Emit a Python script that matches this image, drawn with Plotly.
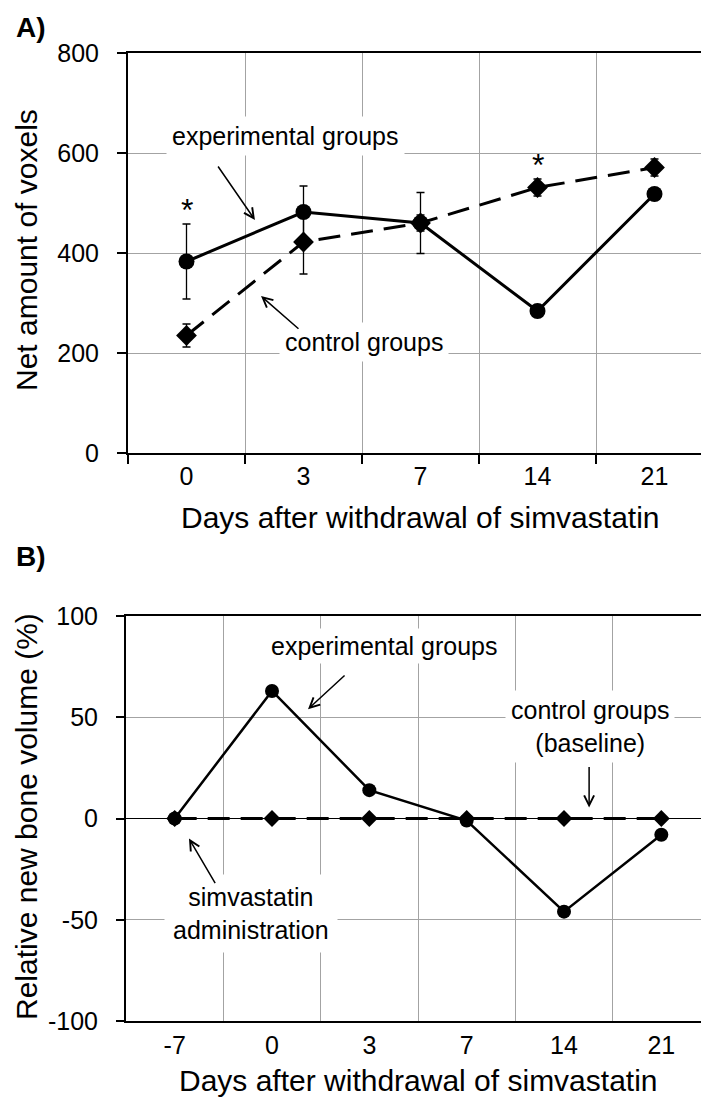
import plotly.graph_objects as go

# ---------------- data ----------------
days_a = ['0', '3', '7', '14', '21']
exp_a = [383, 482, 460, 284, 518]
exp_a_err = [75, 52, 61, 0, 0]
ctrl_a = [235, 422, 460, 531, 571]
ctrl_a_err = [23, 64, 16, 17, 17]

days_b = ['-7', '0', '3', '7', '14', '21']
exp_b = [0, 63, 14, -1, -46, -8]
ctrl_b = [0, 0, 0, 0, 0, 0]

y_ticks_a = [0, 200, 400, 600, 800]
y_ticks_b = [-100, -50, 0, 50, 100]
y_ticktext_b = ['-100', '-50', '0', '50', '100']

x_title = "Days after withdrawal of simvastatin"
y_title_a = "Net amount of voxels"
y_title_b = "Relative new bone volume (%)"

FONT = "Liberation Sans, Arial, sans-serif"
GRID = "#a3a3a3"
W, H = 709, 1101

fig = go.Figure()

# Panel A
fig.add_trace(go.Scatter(
    x=days_a, y=ctrl_a, mode="lines+markers", xaxis="x", yaxis="y",
    line=dict(color="black", width=3, dash="22px,11px"),
    marker=dict(symbol="diamond", size=16, color="black"),
    error_y=dict(type="data", array=ctrl_a_err, color="black", thickness=1.3, width=4),
    showlegend=False))
fig.add_trace(go.Scatter(
    x=days_a, y=exp_a, mode="lines+markers", xaxis="x", yaxis="y",
    line=dict(color="black", width=3),
    marker=dict(symbol="circle", size=16, color="black"),
    error_y=dict(type="data", array=exp_a_err, color="black", thickness=1.3, width=4),
    showlegend=False))

# Panel B
fig.add_trace(go.Scatter(
    x=days_b, y=ctrl_b, mode="lines+markers", xaxis="x2", yaxis="y2",
    line=dict(color="black", width=3, dash="22px,11px"),
    marker=dict(symbol="diamond", size=13, color="black"),
    showlegend=False))
fig.add_trace(go.Scatter(
    x=days_b, y=exp_b, mode="lines+markers", xaxis="x2", yaxis="y2",
    line=dict(color="black", width=2.5),
    marker=dict(symbol="circle", size=14, color="black"),
    showlegend=False))

axis_common = dict(
    automargin=False,
    showline=True, linecolor="black", linewidth=2, mirror=True,
    showgrid=True, gridcolor=GRID, gridwidth=1,
    tickfont=dict(family=FONT, size=25, color="black"),
    tickcolor="black", tickwidth=2,
)

fig.update_layout(
    template="none",
    width=W, height=H,
    margin=dict(l=0, r=0, t=0, b=0, pad=0),
    paper_bgcolor="white", plot_bgcolor="white",
    font=dict(family=FONT, color="black"),
    xaxis=dict(axis_common, type="category", categoryorder="array", categoryarray=days_a,
               domain=[120 / W, 705 / W], anchor="y", range=[-0.5, 4.5],
               tickson="boundaries", ticks="outside", ticklen=9, zeroline=False),
    yaxis=dict(axis_common, domain=[1 - 445 / H, 1 - 45 / H], anchor="x",
               range=[0, 800], tickvals=y_ticks_a, ticks="outside", ticklen=9,
               ticklabelstandoff=13, zeroline=False),
    xaxis2=dict(axis_common, type="category", categoryorder="array", categoryarray=days_b,
                domain=[118 / W, 702 / W], anchor="y2", range=[-0.5, 5.5],
                tickson="boundaries", ticks="", ticklabelstandoff=1, zeroline=False),
    yaxis2=dict(axis_common, domain=[1 - 1013 / H, 1 - 608 / H], anchor="x2",
                range=[-100, 100], tickvals=y_ticks_b, ticktext=y_ticktext_b,
                ticks="outside", ticklen=8, ticklabelstandoff=13,
                zeroline=True, zerolinecolor="black", zerolinewidth=1.2),
)

ann_font = dict(family=FONT, size=25, color="black")
title_font = dict(family=FONT, size=30, color="black")
arrow_style = dict(showarrow=True, arrowhead=5, arrowsize=1.3, arrowwidth=1.5,
                   arrowcolor="black", text="")
annotations = [
    # panel labels
    dict(text="<b>A)</b>", xref="paper", yref="paper", x=23 / W, y=1 - 19 / H,
         showarrow=False, font=dict(family=FONT, size=28, color="black"),
         xanchor="center", yanchor="middle"),
    dict(text="<b>B)</b>", xref="paper", yref="paper", x=23 / W, y=1 - 549 / H,
         showarrow=False, font=dict(family=FONT, size=28, color="black"),
         xanchor="center", yanchor="middle"),
    # axis titles
    dict(text=x_title, xref="paper", yref="paper", x=412 / W, y=1 - 510 / H,
         showarrow=False, font=title_font, xanchor="center", yanchor="middle"),
    dict(text=x_title, xref="paper", yref="paper", x=410 / W, y=1 - 1072 / H,
         showarrow=False, font=title_font, xanchor="center", yanchor="middle"),
    dict(text=y_title_a, xref="paper", yref="paper", x=18 / W, y=1 - 242 / H,
         showarrow=False, font=title_font, textangle=-90,
         xanchor="center", yanchor="middle"),
    dict(text=y_title_b, xref="paper", yref="paper", x=18 / W, y=1 - 809 / H,
         showarrow=False, font=title_font, textangle=-90,
         xanchor="center", yanchor="middle"),
    # panel A texts
    dict(text="experimental groups", xref="x", yref="y", x=0.85, y=634, showarrow=False,
         font=ann_font, bgcolor="white", borderpad=5),
    dict(text="control groups", xref="x", yref="y", x=1.517, y=222, showarrow=False,
         font=ann_font, bgcolor="white", borderpad=5),
    dict(text="*", xref="x", yref="y", x=0, y=486, showarrow=False,
         font=dict(family=FONT, size=32, color="black")),
    dict(text="*", xref="x", yref="y", x=3, y=576, showarrow=False,
         font=dict(family=FONT, size=32, color="black")),
    # panel A arrows
    dict(arrow_style, xref="x", yref="y", axref="x", ayref="y",
         x=0.585, y=466, ax=0.261, ay=576),
    dict(arrow_style, xref="x", yref="y", axref="x", ayref="y",
         x=0.637, y=314, ax=0.97, ay=246),
    # panel B texts
    dict(text="experimental groups", xref="x2", yref="y2", x=2.152, y=85.2, showarrow=False,
         font=ann_font, bgcolor="white", borderpad=3),
    dict(text="control groups<br>(baseline)", xref="x2", yref="y2", x=4.269, y=45.5,
         showarrow=False, font=ann_font, bgcolor="white", borderpad=5),
    dict(text="simvastatin<br>administration", xref="x2", yref="y2", x=0.785, y=-47,
         showarrow=False, font=ann_font, bgcolor="white", borderpad=8),
    # panel B arrows
    dict(arrow_style, xref="x2", yref="y2", axref="x2", ayref="y2",
         x=1.370, y=54.0, ax=1.761, ay=71.3),
    dict(arrow_style, xref="x2", yref="y2", axref="x2", ayref="y2",
         x=4.258, y=5.4, ax=4.258, ay=26.2),
    dict(arrow_style, xref="x2", yref="y2", axref="x2", ayref="y2",
         x=0.147, y=-9.9, ax=0.425, ay=-32.7),
]
fig.update_layout(annotations=annotations)

fig.write_html("out.html")
